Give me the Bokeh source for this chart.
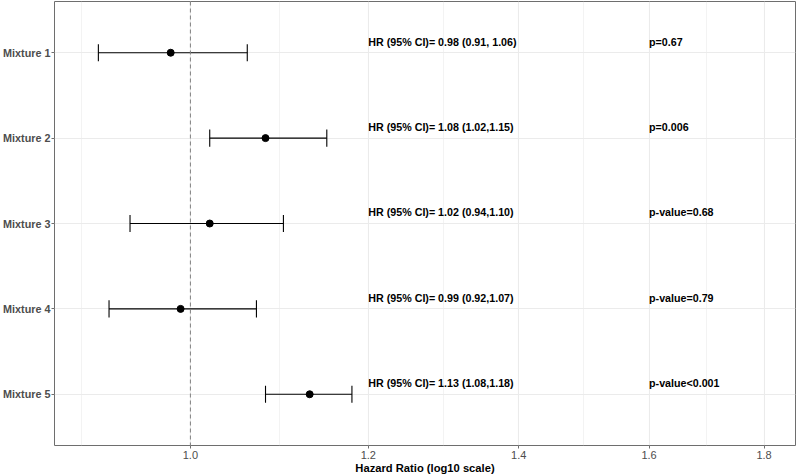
import numpy as np
from bokeh.plotting import figure
from bokeh.models import Range1d, FixedTicker, PrintfTickFormatter, Span, ColumnDataSource
from bokeh.core.properties import value
from bokeh.embed import file_html
from bokeh.resources import INLINE

# ---- data ----
categories = ["Mixture 1", "Mixture 2", "Mixture 3", "Mixture 4", "Mixture 5"]
hr = [0.98, 1.08, 1.02, 0.99, 1.13]
ci_low = [0.91, 1.02, 0.94, 0.92, 1.08]
ci_high = [1.06, 1.15, 1.10, 1.07, 1.18]
hr_labels = [
    "HR (95% CI)= 0.98 (0.91, 1.06)",
    "HR (95% CI)= 1.08 (1.02,1.15)",
    "HR (95% CI)= 1.02 (0.94,1.10)",
    "HR (95% CI)= 0.99 (0.92,1.07)",
    "HR (95% CI)= 1.13 (1.08,1.18)",
]
p_labels = ["p=0.67", "p=0.006", "p-value=0.68", "p-value=0.79", "p-value<0.001"]
x_breaks = [0.8, 1.0, 1.2, 1.4, 1.6, 1.8]
hr_label_x = 1.2
p_label_x = 1.6

n = len(categories)
ypos = [n - i for i in range(n)]  # Mixture 1 at top
minor_breaks = [float(np.sqrt(a * b)) for a, b in zip(x_breaks[:-1], x_breaks[1:])]

FONT = "Liberation Sans"
GRID = "#EBEBEB"
BORDER = "#6E6E6E"

src = ColumnDataSource(dict(
    y=ypos, hr=hr, lo=ci_low, hi=ci_high,
    ycap0=[v - 0.1 for v in ypos], ycap1=[v + 0.1 for v in ypos],
    ytxt=[v + 0.13 for v in ypos],
    hrlab=hr_labels, plab=p_labels,
    hrx=[hr_label_x] * n, px=[p_label_x] * n,
))

p = figure(width=796, height=476, x_axis_type="log",
           x_range=Range1d(0.870, 1.859), y_range=Range1d(0.4, 5.6),
           output_backend="svg", toolbar_location=None,
           min_border_left=0, min_border_right=1, min_border_top=1, min_border_bottom=0)

p.background_fill_color = "white"
p.border_fill_color = "white"
p.outline_line_color = BORDER
p.outline_line_width = 1

# x axis
xt = FixedTicker(ticks=x_breaks, minor_ticks=minor_breaks)
p.xaxis.ticker = xt
p.xaxis.formatter = PrintfTickFormatter(format="%.1f")
p.xgrid.ticker = xt
p.xgrid.grid_line_color = GRID
p.xgrid.grid_line_width = 1.1
p.xgrid.minor_grid_line_color = GRID
p.xgrid.minor_grid_line_width = 0.6
p.xaxis.axis_label = "Hazard Ratio (log10 scale)"
p.xaxis.axis_label_text_font = FONT
p.xaxis.axis_label_text_font_style = "bold"
p.xaxis.axis_label_text_font_size = "11.2px"
p.xaxis.axis_label_text_color = "black"
p.xaxis.axis_label_standoff = 0
p.xaxis.axis_label_text_line_height = 0.9
p.xaxis.major_label_text_line_height = 0.9

# y axis
yt = FixedTicker(ticks=ypos)
p.yaxis.ticker = yt
p.yaxis.major_label_overrides = {y: c for y, c in zip(ypos, categories)}
p.ygrid.ticker = yt
p.ygrid.grid_line_color = GRID
p.ygrid.grid_line_width = 1.1
p.yaxis.major_label_text_font_style = "bold"
p.yaxis.major_label_text_font_size = "10.8px"

for ax in (p.xaxis, p.yaxis):
    ax.axis_line_color = None
    ax.major_tick_line_color = BORDER
    ax.major_tick_out = 3
    ax.major_tick_in = 0
    ax.minor_tick_line_color = None
    ax.major_label_text_font = FONT
    ax.major_label_text_color = "#4D4D4D"
p.xaxis.major_label_standoff = 1
p.xaxis.major_label_text_font_size = "11px"
p.yaxis.major_label_standoff = 1

# reference line at HR = 1
p.add_layout(Span(location=1.0, dimension="height", line_color="#808080",
                  line_width=1, line_dash="4 3"))

# error bars
p.segment(x0="lo", y0="y", x1="hi", y1="y", source=src, line_color="black", line_width=1.1)
p.segment(x0="lo", y0="ycap0", x1="lo", y1="ycap1", source=src, line_color="black", line_width=1.1)
p.segment(x0="hi", y0="ycap0", x1="hi", y1="ycap1", source=src, line_color="black", line_width=1.1)
p.scatter(x="hr", y="y", source=src, size=7, color="black")

# labels
p.text(x="hrx", y="ytxt", text="hrlab", source=src, text_font=value(FONT),
       text_font_style="bold", text_font_size="10.7px", text_color="black",
       text_align="left", text_baseline="middle")
p.text(x="px", y="ytxt", text="plab", source=src, text_font=value(FONT),
       text_font_style="bold", text_font_size="10.7px", text_color="black",
       text_align="left", text_baseline="middle")

open("out.html", "w").write(file_html(p, INLINE))
